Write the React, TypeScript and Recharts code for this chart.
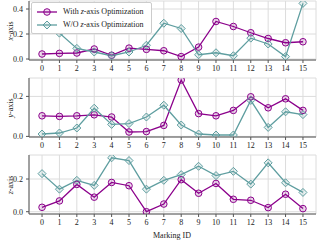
import React from 'react';
import { LineChart, Line, XAxis, YAxis, CartesianGrid, Legend } from 'recharts';

const markingIds = [0, 1, 2, 3, 4, 5, 6, 7, 8, 9, 10, 11, 12, 13, 14, 15];

const xWith = [0.04, 0.045, 0.048, 0.08, 0.03, 0.087, 0.077, 0.066, 0.019, 0.095, 0.3, 0.26, 0.21, 0.164, 0.13, 0.138];
const xWithout = [0.24, 0.207, 0.085, 0.056, 0.026, 0.056, 0.11, 0.286, 0.244, 0.034, 0.05, 0.026, 0.167, 0.12, 0.019, 0.445];

const yWith = [0.103, 0.1, 0.103, 0.108, 0.097, 0.022, 0.024, 0.055, 0.282, 0.114, 0.103, 0.13, 0.198, 0.143, 0.188, 0.13];
const yWithout = [0.012, 0.017, 0.042, 0.141, 0.06, 0.064, 0.097, 0.156, 0.057, 0.012, 0.007, 0.007, 0.18, 0.045, 0.123, 0.109];

const zWith = [0.027, 0.066, 0.167, 0.089, 0.179, 0.159, 0.0, 0.047, 0.196, 0.113, 0.173, 0.076, 0.07, 0.025, 0.107, 0.019];
const zWithout = [0.233, 0.138, 0.192, 0.161, 0.33, 0.313, 0.138, 0.192, 0.227, 0.278, 0.221, 0.247, 0.169, 0.299, 0.177, 0.118];

const PURPLE = '#8b008b';
const TEAL = '#5f9ea0';
const FONT = '"Liberation Serif", "Times New Roman", serif';
const tickStyle = { fontSize: 8, fill: '#222', fontFamily: FONT };

const CircleDot = (props: any) => {
    const { cx, cy, index } = props;
    if (cx == null || cy == null) return <g key={`c-${index}`} />;
    return <circle key={`c-${index}`} cx={cx} cy={cy} r={3.3} stroke={PURPLE} strokeWidth={1} fill={PURPLE} fillOpacity={0.15} />;
};

const DiamondDot = (props: any) => {
    const { cx, cy, index } = props;
    if (cx == null || cy == null) return <g key={`d-${index}`} />;
    const s = 4;
    return (
        <polygon
            key={`d-${index}`}
            points={`${cx},${cy - s} ${cx + s},${cy} ${cx},${cy + s} ${cx - s},${cy}`}
            stroke={TEAL}
            strokeWidth={1}
            fill={TEAL}
            fillOpacity={0.15}
        />
    );
};

const renderLegend = () => {
    const items = [
        { label: 'z', rest: '-axis Optimization', pre: 'With ', color: PURPLE, shape: 'circle' },
        { label: 'z', rest: '-axis Optimization', pre: 'W/O ', color: TEAL, shape: 'diamond' },
    ];
    return (
        <div style={{ background: 'white', border: '1px solid #ccc', borderRadius: 2, padding: '2px 4px 2px 4px', width: 111 }}>
            {items.map((it) => (
                <div key={it.pre} style={{ display: 'flex', alignItems: 'center', height: 13 }}>
                    <svg width={22} height={10} style={{ marginRight: 5 }}>
                        <line x1={1} y1={5} x2={21} y2={5} stroke={it.color} strokeWidth={1.3} />
                        {it.shape === 'circle' ? (
                            <circle cx={11} cy={5} r={3.3} stroke={it.color} fill={it.color} fillOpacity={0.15} />
                        ) : (
                            <polygon points="11,1 15,5 11,9 7,5" stroke={it.color} fill={it.color} fillOpacity={0.15} />
                        )}
                    </svg>
                    <span style={{ fontFamily: FONT, fontSize: 8, color: '#222', whiteSpace: 'nowrap' }}>
                        {it.pre}
                        <i>{it.label}</i>
                        {it.rest}
                    </span>
                </div>
            ))}
        </div>
    );
};

interface PanelProps {
    top: number;
    withVals: number[];
    withoutVals: number[];
    domain: [number, number];
    ticks: number[];
    axisName: string;
    legend?: boolean;
}

const Panel: React.FC<PanelProps> = ({ top, withVals, withoutVals, domain, ticks, axisName, legend }) => {
    const data = markingIds.map((id, i) => ({ id, with: withVals[i], without: withoutVals[i] }));
    return (
        <>
            <div style={{ position: 'absolute', left: 0, top }}>
                <LineChart width={317} height={77} data={data} margin={{ top: 1, right: 1, bottom: 1, left: 0 }}>
                    <CartesianGrid stroke="#dcdcdc" strokeWidth={1} />
                    <XAxis
                        dataKey="id"
                        type="number"
                        domain={[-0.75, 15.75]}
                        ticks={markingIds}
                        interval={0}
                        allowDataOverflow
                        height={16}
                        tick={tickStyle}
                        tickSize={3}
                        tickMargin={2}
                        axisLine={{ stroke: '#555' }}
                        tickLine={{ stroke: '#555' }}
                    />
                    <XAxis xAxisId="top" orientation="top" dataKey="id" type="number" domain={[-0.75, 15.75]} height={0} tick={false} tickLine={false} axisLine={{ stroke: '#555' }} />
                    <YAxis
                        type="number"
                        domain={domain}
                        ticks={ticks}
                        allowDataOverflow
                        width={29}
                        tick={tickStyle}
                        tickSize={3}
                        tickMargin={3}
                        tickFormatter={(v: number) => v.toFixed(1)}
                        axisLine={{ stroke: '#555' }}
                        tickLine={{ stroke: '#555' }}
                    />
                    <YAxis yAxisId="right" orientation="right" width={0} tick={false} tickLine={false} axisLine={{ stroke: '#555' }} />
                    <Line
                        dataKey="with"
                        name="With z-axis Optimization"
                        stroke={PURPLE}
                        strokeWidth={1.3}
                        dot={CircleDot}
                        isAnimationActive={false}
                    />
                    <Line
                        dataKey="without"
                        name="W/O z-axis Optimization"
                        stroke={TEAL}
                        strokeWidth={1.3}
                        dot={DiamondDot}
                        isAnimationActive={false}
                    />
                    {legend && (
                        <Legend
                            layout="vertical"
                            align="center"
                            verticalAlign="middle"
                            content={renderLegend}
                            wrapperStyle={{ left: 31, top: 2, width: 'auto' }}
                        />
                    )}
                </LineChart>
            </div>
            <div
                style={{
                    position: 'absolute',
                    left: 10,
                    top: top + 30.5,
                    transform: 'translate(-50%, -50%) rotate(-90deg)',
                    fontFamily: FONT,
                    fontSize: 8,
                    color: '#222',
                    whiteSpace: 'nowrap',
                }}
            >
                <i>{axisName}</i>-axis
            </div>
        </>
    );
};

export default function App() {
    return (
        <div style={{ position: 'absolute', left: 0, top: 0, width: 317, height: 240, background: 'white', overflow: 'hidden' }}>
            <Panel top={0} withVals={xWith} withoutVals={xWithout} domain={[-0.008, 0.464]} ticks={[0, 0.2, 0.4]} axisName="x" legend />
            <Panel top={77} withVals={yWith} withoutVals={yWithout} domain={[-0.003, 0.292]} ticks={[0, 0.2]} axisName="y" />
            <Panel top={154} withVals={zWith} withoutVals={zWithout} domain={[-0.014, 0.347]} ticks={[0, 0.2]} axisName="z" />
            <div
                style={{
                    position: 'absolute',
                    left: 172,
                    top: 235,
                    transform: 'translate(-50%, -50%)',
                    fontFamily: FONT,
                    fontSize: 8,
                    color: '#222',
                    whiteSpace: 'nowrap',
                }}
            >
                Marking ID
            </div>
        </div>
    );
}
